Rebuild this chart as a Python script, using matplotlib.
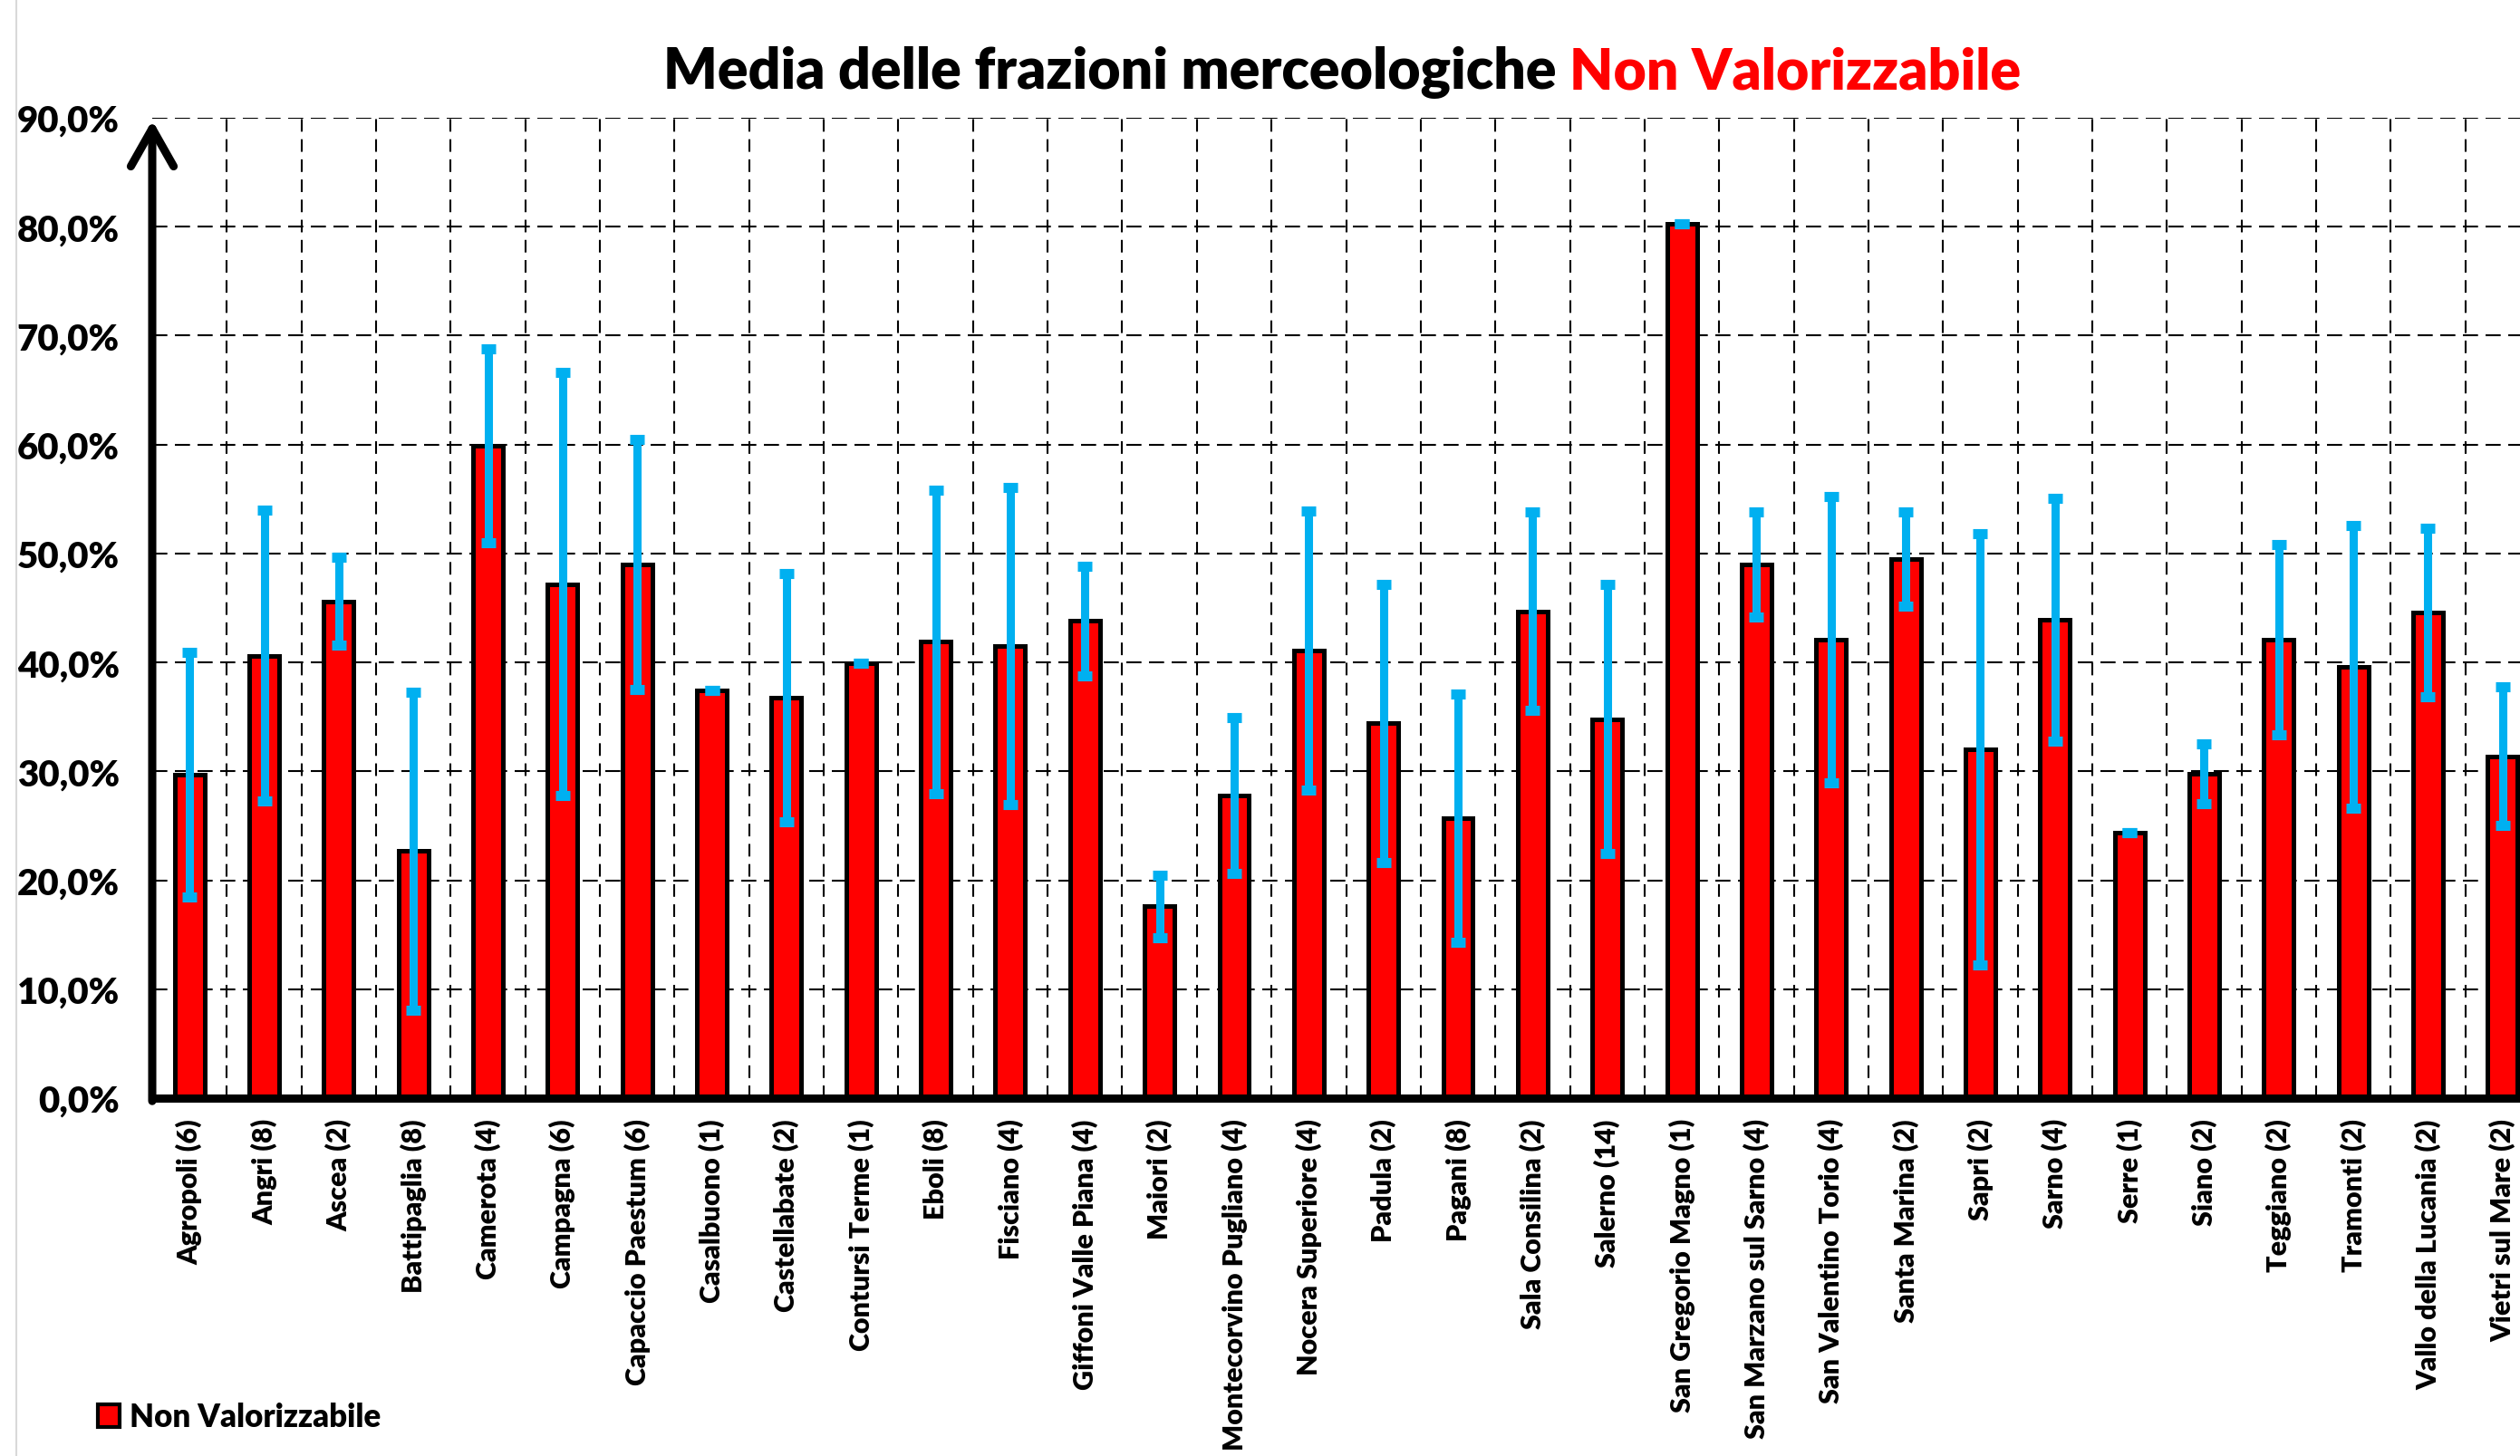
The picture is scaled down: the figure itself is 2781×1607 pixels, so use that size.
import numpy as np
import matplotlib
matplotlib.use('Agg')
import matplotlib.pyplot as plt
from matplotlib.patches import FancyArrowPatch, Patch
from matplotlib.lines import Line2D

plt.rcParams['font.family'] = ['Lato', 'DejaVu Sans']
plt.rcParams['font.weight'] = 'heavy'
plt.rcParams['lines.scale_dashes'] = False

# data (%)
comuni = ['Agropoli (6)', 'Angri (8)', 'Ascea (2)', 'Battipaglia (8)', 'Camerota (4)',
          'Campagna (6)', 'Capaccio Paestum (6)', 'Casalbuono (1)', 'Castellabate (2)',
          'Contursi Terme (1)', 'Eboli (8)', 'Fisciano (4)', 'Giffoni Valle Piana (4)',
          'Maiori (2)', 'Montecorvino Pugliano (4)', 'Nocera Superiore (4)', 'Padula (2)',
          'Pagani (8)', 'Sala Consilina (2)', 'Salerno (14)', 'San Gregorio Magno (1)',
          'San Marzano sul Sarno (4)', 'San Valentino Torio (4)', 'Santa Marina (2)',
          'Sapri (2)', 'Sarno (4)', 'Serre (1)', 'Siano (2)', 'Teggiano (2)',
          'Tramonti (2)', 'Vallo della Lucania (2)', 'Vietri sul Mare (2)']
media = [29.7, 40.6, 45.6, 22.7, 59.9, 47.2, 49.0, 37.4, 36.8, 39.9, 41.9, 41.5, 43.8,
         17.6, 27.8, 41.1, 34.4, 25.7, 44.7, 34.8, 80.3, 49.0, 42.1, 49.5, 32.0, 43.9,
         24.4, 29.8, 42.1, 39.6, 44.6, 31.4]
dev_std = [11.2, 13.35, 4.05, 14.6, 8.9, 19.45, 11.45, 0.0, 11.4, 0.0, 13.95, 14.55, 5.0,
           2.9, 7.15, 12.8, 12.75, 11.4, 9.1, 12.35, 0.0, 4.85, 13.15, 4.35, 19.8, 11.15,
           0.0, 2.75, 8.75, 12.95, 7.75, 6.4]

W, H = 2781, 1608
fig = plt.figure(figsize=(W / 100, H / 100), dpi=100)
ax = fig.add_axes([168 / W, 1 - 1213 / H, (2803 - 168) / W, (1213 - 131) / H])

x = np.arange(len(comuni))
vals = np.array(media) / 100
errs = np.array(dev_std) / 100

ax.bar(x, vals, width=0.4, color='#FF0000', edgecolor='black', linewidth=3.6, zorder=3)
ax.errorbar(x, vals, yerr=errs, fmt='none', ecolor='#00B0F0', elinewidth=6.5,
            capsize=6.1, capthick=8, zorder=4)

ax.set_xlim(-0.5, len(comuni) - 0.5)
ax.set_ylim(0, 0.9)

yt = np.arange(0, 0.91, 0.1)
ax.set_yticks(yt)
ax.set_yticklabels([('%.1f%%' % (v * 100)).replace('.', ',') for v in yt], fontsize=29)
ax.set_xticks(x)
ax.set_xticklabels(comuni, rotation=90, fontsize=22)
ax.set_xticks(np.arange(0.5, len(comuni) - 1, 1), minor=True)
ax.tick_params(axis='both', which='both', length=0)
ax.tick_params(axis='y', pad=26)
ax.tick_params(axis='x', pad=16)

ax.grid(axis='y', which='major', color='black', linewidth=1.5, linestyle=(0, (12, 6)), zorder=1)
ax.grid(axis='x', which='minor', color='black', linewidth=1.5, linestyle=(0, (10, 6)), zorder=1)

for s in ['top', 'right', 'left']:
    ax.spines[s].set_visible(False)
ax.spines['bottom'].set_linewidth(6.5)
ax.spines['bottom'].set_zorder(5)

# y axis drawn as an arrow
arrow = FancyArrowPatch((-0.5, -0.005), (-0.5, 0.9), transform=ax.transData,
                        arrowstyle='->,head_length=1.5,head_width=0.85', mutation_scale=20,
                        linewidth=6.5, color='black', capstyle='round', joinstyle='round',
                        clip_on=False, zorder=6)
ax.add_patch(arrow)

# light border line on the left of the chart area
fig.add_artist(Line2D([18 / W, 18 / W], [0, 1], color='#d9d9d9', linewidth=1.5))

# title in two colours
fig.canvas.draw()
r = fig.canvas.get_renderer()
t1 = fig.text(0, 1 - 80 / H, 'Media delle frazioni merceologiche ', fontsize=45,
              color='black', va='center', ha='left')
t2 = fig.text(0, 1 - 80 / H, 'Non Valorizzabile', fontsize=45,
              color='#FF0000', va='center', ha='left')
w1 = t1.get_window_extent(r).width
w2 = t2.get_window_extent(r).width
x0 = 1481 - (w1 + w2) / 2
t1.set_x(x0 / W)
t2.set_x((x0 + w1) / W)

fig.legend(handles=[Patch(facecolor='#FF0000', edgecolor='black', linewidth=3,
                          label='Non Valorizzabile')],
           loc='center left', bbox_to_anchor=(108 / W, 1 - 1565 / H), frameon=False,
           prop={'weight': 'heavy', 'size': 25}, handlelength=0.7,
           handleheight=0.7, handletextpad=0.3, borderpad=0, borderaxespad=0)

fig.savefig('out.png', dpi=100)
